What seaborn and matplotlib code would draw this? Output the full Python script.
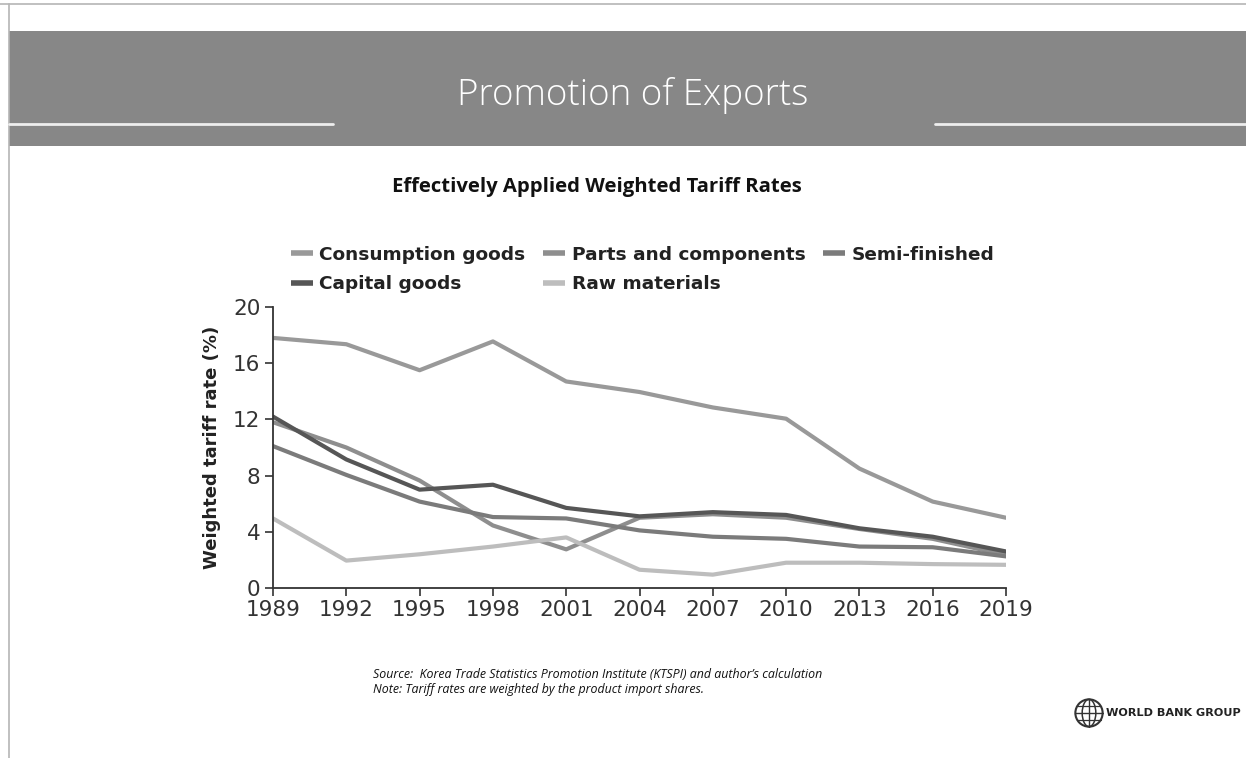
import numpy as np
import pandas as pd
import matplotlib
matplotlib.use("Agg")
import matplotlib.pyplot as plt
from matplotlib.patches import Rectangle, Circle, Ellipse
from matplotlib.lines import Line2D
import seaborn as sns

# ── Datos ─────────────────────────────────────────────
years = [1989, 1992, 1995, 1998, 2001, 2004, 2007, 2010, 2013, 2016, 2019]
consumption = [17.8, 17.35, 15.5, 17.55, 14.7, 13.95, 12.85, 12.05, 8.5, 6.15, 5.0]
parts = [11.8, 10.0, 7.65, 4.45, 2.75, 5.0, 5.25, 5.0, 4.2, 3.5, 2.35]
semi = [10.1, 8.05, 6.15, 5.05, 4.95, 4.1, 3.65, 3.5, 2.95, 2.9, 2.25]
capital = [12.2, 9.15, 7.0, 7.35, 5.7, 5.1, 5.4, 5.2, 4.25, 3.65, 2.6]
raw = [4.95, 1.95, 2.4, 2.95, 3.6, 1.3, 0.95, 1.8, 1.8, 1.7, 1.65]

series_names = ["Consumption goods", "Parts and components", "Semi-finished",
                "Capital goods", "Raw materials"]
series_values = [consumption, parts, semi, capital, raw]
series_colors = ["#999999", "#8e8e8e", "#7b7b7b", "#565656", "#bdbdbd"]

df = pd.DataFrame({
    "year": years * len(series_names),
    "rate": sum(series_values, []),
    "serie": np.repeat(series_names, len(years)),
})

W, H = 1246, 758


def fx(px):
    return px / W


def fy(py):
    return 1 - py / H


sns.set_style("white")
plt.rcParams["font.family"] = ["DejaVu Sans"]

fig = plt.figure(figsize=(W / 100, H / 100), dpi=100)
fig.patch.set_facecolor("white")

# ── Marco y banda de título ──────────────────────────
fig.add_artist(Line2D([0, 1], [fy(4), fy(4)], transform=fig.transFigure,
                      color="#b5b5b5", lw=1.2))
fig.add_artist(Line2D([fx(9), fx(9)], [fy(4), 0], transform=fig.transFigure,
                      color="#b5b5b5", lw=1.2))
fig.add_artist(Rectangle((fx(9), fy(146)), 1 - fx(9), fy(31) - fy(146),
                         transform=fig.transFigure, facecolor="#878787",
                         edgecolor="none"))
for x0, x1 in [(9, 333), (935, 1246)]:
    fig.add_artist(Line2D([fx(x0), fx(x1)], [fy(124), fy(124)],
                          transform=fig.transFigure, color="#eeeeee", lw=2))
fig.text(fx(633), fy(96), "Promotion of Exports", color="white",
         fontsize=26.5, fontfamily="Open Sans", fontweight="light",
         ha="center", va="center")

fig.text(fx(597), fy(187), "Effectively Applied Weighted Tariff Rates",
         fontsize=14.6, fontfamily="Open Sans", fontweight="bold",
         ha="center", va="center", color="#111111")

# ── Gráfico ──────────────────────────────────────────
ax = fig.add_axes([fx(273), fy(588), fx(1006) - fx(273), fy(307) - fy(588)])
sns.lineplot(data=df, x="year", y="rate", hue="serie",
             hue_order=series_names, palette=series_colors,
             linewidth=3.0, ax=ax, legend=False)

ax.set_xlim(1989, 2019)
ax.set_ylim(0, 20)
ax.set_xticks(years)
ax.set_yticks([0, 4, 8, 12, 16, 20])
ax.tick_params(axis="both", direction="out", length=6, width=1.2,
               color="#333333", labelsize=15.5, labelcolor="#333333", pad=3)
ax.tick_params(axis="both", which="both", left=True, bottom=True)
for s in ["top", "right"]:
    ax.spines[s].set_visible(False)
for s in ["left", "bottom"]:
    ax.spines[s].set_color("#333333")
    ax.spines[s].set_linewidth(1.3)
ax.set_xlabel("")
ax.set_ylabel("Weighted tariff rate (%)", fontsize=13, fontweight="bold",
              color="#222222", labelpad=9)

# Leyenda: orden por columnas para que las filas coincidan
handles = {n: Line2D([], [], color=c, lw=4, solid_capstyle="butt")
           for n, c in zip(series_names, series_colors)}
order = ["Consumption goods", "Capital goods", "Parts and components",
         "Raw materials", "Semi-finished"]
leg = fig.legend([handles[n] for n in order], order, ncol=3,
                 loc="upper left", bbox_to_anchor=(fx(274), fy(229)),
                 frameon=False, handlelength=1.2, handletextpad=0.35,
                 columnspacing=0.95, labelspacing=0.62,
                 prop={"weight": "bold", "size": 13.3})
for t in leg.get_texts():
    t.set_color("#222222")

# ── Fuente y nota ────────────────────────────────────
fig.text(fx(373), fy(674), "Source:  Korea Trade Statistics Promotion Institute (KTSPI) and author\u2019s calculation",
         fontsize=8.9, fontstyle="italic", fontfamily="Open Sans",
         ha="left", va="center", color="#111111")
fig.text(fx(373), fy(690), "Note: Tariff rates are weighted by the product import shares.",
         fontsize=8.9, fontstyle="italic", fontfamily="Open Sans",
         ha="left", va="center", color="#111111")

# ── Logo ─────────────────────────────────────────────
lax = fig.add_axes([fx(1074), fy(728), fx(30), fy(698) - fy(728)])
lax.set_xlim(-1.1, 1.1)
lax.set_ylim(-1.1, 1.1)
lax.set_aspect("equal")
lax.axis("off")
lax.add_patch(Circle((0, 0), 1, fill=False, lw=1.5, ec="#333333"))
lax.add_patch(Ellipse((0, 0), 1.0, 2, fill=False, lw=1.1, ec="#333333"))
lax.plot([-1, 1], [0, 0], color="#333333", lw=1.0)
lax.plot([0, 0], [-1, 1], color="#333333", lw=1.0)
lax.plot([-0.85, 0.85], [0.5, 0.5], color="#333333", lw=0.9)
lax.plot([-0.85, 0.85], [-0.5, -0.5], color="#333333", lw=0.9)
fig.text(fx(1106), fy(713), "WORLD BANK GROUP", fontsize=8.1,
         fontfamily="DejaVu Sans", fontweight="bold",
         color="#222222", ha="left", va="center")

fig.savefig("out.png", dpi=100, facecolor=fig.get_facecolor())
plt.close(fig)
